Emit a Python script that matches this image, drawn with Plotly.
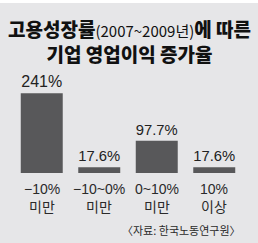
import plotly.graph_objects as go

categories = ["c1", "c2", "c3", "c4"]
cat_line1 = ["\u221210%", "\u221210~0%", "0~10%", "10%"]
cat_line2 = ["미만", "미만", "미만", "이상"]
values = [241, 17.6, 97.7, 17.6]
title_line1 = "고용성장률<span style='font-size:15px;font-weight:normal'>(2007~2009년)</span>에 따른"
title_line2 = "기업 영업이익 증가율"
source = "〈자료: 한국노동연구원〉"

W, H = 258, 243
L, R, T, B = 13, 15, 80, 70
ph = H - T - B
pw = W - L - R

def py(ypx):
    return (H - B - ypx) / ph

def px(xpx):
    return (xpx - L) / pw

BG = "#e6e6e8"
BAR = "#58585a"
LAT = "Liberation Sans, Noto Sans CJK KR"
KR = "Noto Sans CJK KR, Liberation Sans"

fig = go.Figure(go.Bar(
    x=categories, y=values, marker=dict(color=BAR, line=dict(width=0)),
    texttemplate="%{y}%", textposition="outside", cliponaxis=False,
    textfont=dict(family=LAT, size=16, color="#222222"),
))

ann = []
for c, l1, l2 in zip(categories, cat_line1, cat_line2):
    ann.append(dict(x=c, xref="x", y=py(189), yref="paper", text=l1, showarrow=False,
                    xanchor="center", yanchor="middle",
                    font=dict(family=LAT, size=14, color="#2a2a2a")))
    ann.append(dict(x=c, xref="x", y=py(206), yref="paper", text=l2, showarrow=False,
                    xanchor="center", yanchor="middle",
                    font=dict(family=KR, size=14, color="#2a2a2a")))
ann.append(dict(x=px(129), xref="paper", y=py(41), yref="paper",
                text=title_line1 + "<br>" + title_line2, align="center",
                showarrow=False, xanchor="center", yanchor="middle",
                font=dict(family=KR, size=19, color="#111111", weight=900)))
ann.append(dict(x=px(243), xref="paper", y=py(230), yref="paper", text=source,
                showarrow=False, xanchor="right", yanchor="middle",
                font=dict(family=KR, size=11, color="#2a2a2a")))

fig.update_layout(
    width=W, height=H, margin=dict(l=L, r=R, t=T, b=B, pad=0),
    paper_bgcolor=BG, plot_bgcolor=BG, showlegend=False,
    bargap=0.27,
    xaxis=dict(showticklabels=False, showgrid=False, zeroline=False, showline=False, ticks=""),
    yaxis=dict(range=[0, 281], visible=False),
    annotations=ann,
    shapes=[dict(type="rect", xref="paper", yref="paper", x0=-1, x1=2,
                 y0=py(3), y1=py(-5), fillcolor="white", line=dict(width=0), layer="above")],
)

fig.write_html("out.html", config=dict(displayModeBar=False))
